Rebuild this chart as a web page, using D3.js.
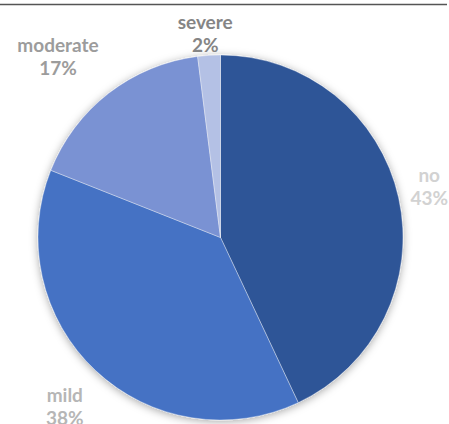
<!DOCTYPE html>
<html>
<head>
<meta charset="utf-8">
<script src="https://cdn.jsdelivr.net/npm/d3@7"></script>
<style>
  html, body { margin: 0; padding: 0; background: #fff; }
  svg { display: block; }
</style>
</head>
<body>
<svg id="chart" width="449" height="424"></svg>
<script>
// Severity categories and their share of responses (%)
const categories = ["no", "mild", "moderate", "severe"];
const shares = [43, 38, 17, 2];
const percentLabels = ["43%", "38%", "17%", "2%"];

// Slice fills and label colours, one per category
const sliceColors = ["#2F5597", "#4472C4", "#7A92D3", "#B4C1E5"];
const labelColors = ["#d2d2d2", "#b6b6b6", "#9c9c9c", "#858585"];

const width = 449, height = 424;
const cx = 220.5, cy = 237.5, radius = 182.5;

const svg = d3.select("#chart");

// Soft shadow around the pie
const defs = svg.append("defs");
const shadow = defs.append("filter")
  .attr("id", "pieShadow")
  .attr("x", "-20%").attr("y", "-20%")
  .attr("width", "140%").attr("height", "140%");
shadow.append("feDropShadow")
  .attr("dx", 0).attr("dy", 1.5)
  .attr("stdDeviation", 4)
  .attr("flood-color", "#000")
  .attr("flood-opacity", 0.35);

// Top frame line
svg.append("line")
  .attr("x1", 0).attr("x2", 447)
  .attr("y1", 4.5).attr("y2", 4.5)
  .attr("stroke", "#555")
  .attr("stroke-width", 1.5);

const data = categories.map((c, i) => ({ category: c, value: shares[i], label: percentLabels[i], i }));

const pie = d3.pie().sort(null).value(d => d.value).startAngle(0).endAngle(2 * Math.PI);
const arc = d3.arc().innerRadius(0).outerRadius(radius);
const arcs = pie(data);

const g = svg.append("g").attr("transform", `translate(${cx},${cy})`);

g.append("g")
  .attr("filter", "url(#pieShadow)")
  .selectAll("path")
  .data(arcs)
  .join("path")
  .attr("d", arc)
  .attr("fill", d => sliceColors[d.data.i])
  .attr("stroke", "rgba(255,255,255,0.45)")
  .attr("stroke-width", 0.8);

// Outside-end data labels: category name over percentage
const labels = g.append("g")
  .attr("font-family", "Lato, 'Open Sans', sans-serif")
  .attr("font-weight", 700)
  .attr("font-size", 19)
  .attr("text-anchor", "middle");

const lineGap = 23;
const anchorRadius = radius + 17.5;
const topLimit = 10 - cy;            // labels stay below the frame line
const rightLimit = width - 1 - cx;   // and inside the right edge
const lean = v => Math.max(-1, Math.min(1, 1.6 * v));

arcs.forEach(d => {
  const t = labels.append("text")
    .attr("fill", labelColors[d.data.i]);
  t.append("tspan").attr("x", 0).attr("y", 0).text(d.data.category);
  t.append("tspan").attr("x", 0).attr("y", lineGap).text(d.data.label);

  const bb = t.node().getBBox();
  const w = bb.width, h = bb.height;
  const mid = (d.startAngle + d.endAngle) / 2;
  const dx = Math.sin(mid), dy = -Math.cos(mid);
  let px = dx * anchorRadius + lean(dx) * w / 2;
  let py = dy * anchorRadius + lean(dy) * h / 2;
  px = Math.min(px, rightLimit - w / 2);
  py = Math.max(py, topLimit + h / 2);
  // shift so the text block's centre sits at (px, py)
  const ox = px - (bb.x + w / 2);
  const oy = py - (bb.y + h / 2);
  t.attr("transform", `translate(${ox},${oy})`);
});
</script>
</body>
</html>
